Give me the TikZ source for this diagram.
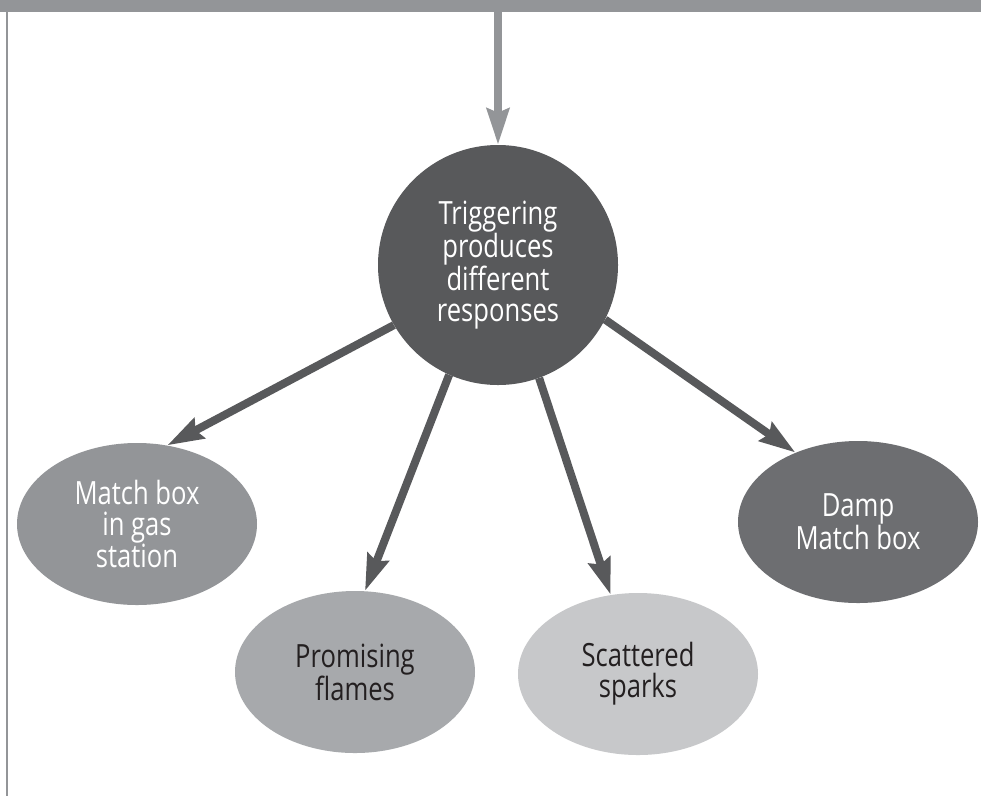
\documentclass[tikz,border=0pt]{standalone}
\usepackage{fontspec}
\usetikzlibrary{shapes.geometric,arrows.meta}
\newfontfamily\labfont[FakeStretch=0.8]{Open Sans}
\definecolor{hdr}{HTML}{939598}
\definecolor{dark}{HTML}{58595B}
\definecolor{eone}{HTML}{939598}
\definecolor{etwo}{HTML}{A7A9AC}
\definecolor{ethree}{HTML}{C7C8CA}
\definecolor{efour}{HTML}{6D6E71}
\definecolor{txtdark}{HTML}{231F20}
\tikzset{
  lab/.style={font=\labfont\fontsize{32}{31}\selectfont, align=center},
  hub/.style={circle, fill=dark, minimum size=240pt, inner sep=0pt, text=white, lab},
  resp/.style={ellipse, minimum width=240pt, minimum height=162pt, inner sep=0pt, lab},
  conn/.style={draw=dark, line width=8pt, -{Stealth[length=36pt,width=22pt,inset=4pt]}},
  topconn/.style={draw=hdr, line width=8pt, -{Stealth[length=36pt,width=22pt,inset=4pt]}}
}
\begin{document}
\begin{tikzpicture}[x=1pt,y=-1pt]
\useasboundingbox (0,0) rectangle (981,796);
\fill[white] (0,0) rectangle (981,796);
% header bar and left rule
\fill[hdr] (0,0) rectangle (981,12);
\fill[hdr] (6,12) rectangle (8,796);
% nodes
\coordinate (topstart) at (498,12);
\node[resp, fill=eone, text=white] (e1) at (137,524) {Match box\\in gas\\station};
\node[resp, fill=etwo, text=txtdark] (e2) at (355,672) {Promising\\flames};
\node[resp, fill=ethree, text=txtdark] (e3) at (638,674) {Scattered\\sparks};
\node[resp, fill=efour, text=white] (e4) at (858,522) {Damp\\Match box};
\node[hub] (hub) at (498,265) {Triggering\\produces\\different\\responses};
% connectors
\draw[topconn] (topstart) -- (hub.north);
\draw[conn] (hub.210.7) -- (e1.69);
\draw[conn] (hub.246.4) -- (e2.83);
\draw[conn] (hub.290.6) -- (e3.109.5);
\draw[conn] (hub.333) -- (e4.132);
\end{tikzpicture}
\end{document}
